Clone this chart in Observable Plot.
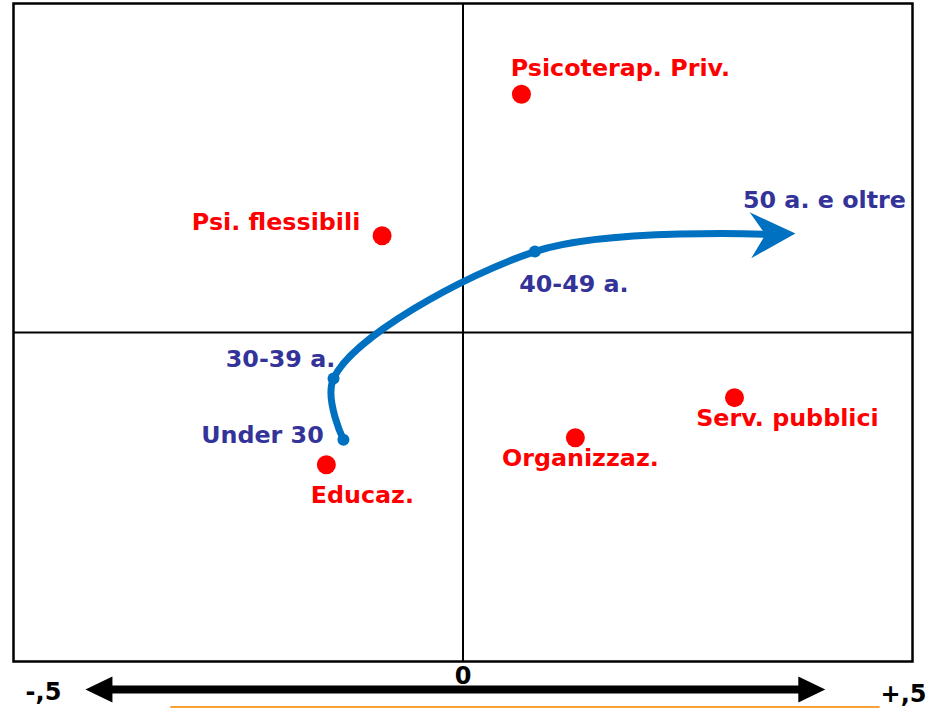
<!DOCTYPE html>
<html>
<head>
<meta charset="utf-8">
<script src="https://cdn.jsdelivr.net/npm/d3@7"></script>
<script src="https://cdn.jsdelivr.net/npm/@observablehq/plot@0.6"></script>
<style>
  html, body { margin: 0; padding: 0; background: #fff; }
  #chart svg { display: block; }
</style>
</head>
<body>
<div id="chart"></div>
<script>
// Category points (red)
const catNames = ["Psicoterap. Priv.", "Psi. flessibili", "Serv. pubblici", "Organizzaz.", "Educaz."];
const catX = [0.065, -0.090, 0.302, 0.125, -0.152];
const catY = [0.362, 0.147, -0.099, -0.160, -0.201];

// Age trajectory (blue)
const ageNames = ["Under 30", "30-39 a.", "40-49 a.", "50 a. e oltre"];
const ageX = [-0.133, -0.144, 0.080, 0.342];
const ageY = [-0.163, -0.070, 0.123, 0.149];

// Bottom axis
const tickValues = [-0.5, 0, 0.5];
const tickLabels = ["-,5", "0", "+,5"];
const axisArrowX = [-0.42, 0.403];
const orangeX = [-0.325, 0.464];

// Label offsets (px) – layout only
const catOffsets = [[99, -26], [-106, -13], [53, 21], [5, 21], [36, 31]];
const ageOffsets = [[-81, -4], [-53, -19], [39, 33], [54, -34]];
const tickOffsets = [[30, 31], [0, 15], [-9, 33]];

const cats = catNames.map((n, i) => ({name: n, x: catX[i], y: catY[i]}));
const ages = ageNames.map((n, i) => ({name: n, x: ageX[i], y: ageY[i]}));

const RED = "#FF0000", NAVY = "#333399", BLUE = "#0070C0";
const FONT = "DejaVu Sans, Verdana, sans-serif";

const stealth = {
  draw(ctx) {
    ctx.moveTo(25, 0);
    ctx.lineTo(-20, -23);
    ctx.lineTo(-5, 0);
    ctx.lineTo(-20, 23);
    ctx.closePath();
  }
};
const axisHead = {
  draw(ctx) {
    ctx.moveTo(0, 0);
    ctx.lineTo(-27, -13);
    ctx.lineTo(-27, 13);
    ctx.closePath();
  }
};

const textStyle = {fontFamily: FONT, fontWeight: "bold", fontSize: 23.8, textAnchor: "middle", lineAnchor: "middle"};

const marks = [
  Plot.frame({stroke: "black", strokeWidth: 2.5}),
  Plot.ruleX([0], {stroke: "black", strokeWidth: 2}),
  Plot.ruleY([0], {stroke: "black", strokeWidth: 2}),
  // age trajectory
  Plot.line(ages, {x: "x", y: "y", curve: "catmull-rom", stroke: BLUE, strokeWidth: 7, strokeLinecap: "butt"}),
  Plot.dot(ages.slice(0, 3), {x: "x", y: "y", r: 6, fill: BLUE}),
  Plot.dot(ages.slice(3), {x: "x", y: "y", symbol: stealth, rotate: -2, fill: BLUE, r: 10}),
  // category dots
  Plot.dot(cats, {x: "x", y: "y", r: 9.5, fill: RED}),
  // labels
  ...cats.map((d, i) => Plot.text([d], {x: "x", y: "y", text: "name", fill: RED, dx: catOffsets[i][0], dy: catOffsets[i][1], ...textStyle})),
  ...ages.map((d, i) => Plot.text([d], {x: "x", y: "y", text: "name", fill: NAVY, dx: ageOffsets[i][0], dy: ageOffsets[i][1], ...textStyle})),
  // bottom axis arrow
  Plot.ruleY([-0.5], {x1: axisArrowX[0], x2: axisArrowX[1], dy: 28, stroke: "black", strokeWidth: 8, insetLeft: 20, insetRight: 20}),
  Plot.dot([axisArrowX[1]], {x: d => d, y: () => -0.5, dy: 28, symbol: axisHead, rotate: 0, fill: "black", r: 10}),
  Plot.dot([axisArrowX[0]], {x: d => d, y: () => -0.5, dy: 28, symbol: axisHead, rotate: 180, fill: "black", r: 10}),
  ...tickValues.map((v, i) => Plot.text([tickLabels[i]], {x: () => v, y: () => -0.5, text: d => d, fill: "black", dx: tickOffsets[i][0], dy: tickOffsets[i][1], ...textStyle, fontSize: 24})),
  // orange underline
  Plot.ruleY([-0.5], {x1: orangeX[0], x2: orangeX[1], dy: 45.5, stroke: "#F5A133", strokeWidth: 2})
];

const chart = Plot.plot({
  width: 932,
  height: 708,
  marginLeft: 13,
  marginRight: 20,
  marginTop: 3,
  marginBottom: 47,
  x: {domain: [-0.5, 0.5], axis: null},
  y: {domain: [-0.5, 0.5], axis: null},
  style: {background: "#fff", fontFamily: FONT, overflow: "visible"},
  marks
});
document.getElementById("chart").appendChild(chart);
</script>
</body>
</html>
